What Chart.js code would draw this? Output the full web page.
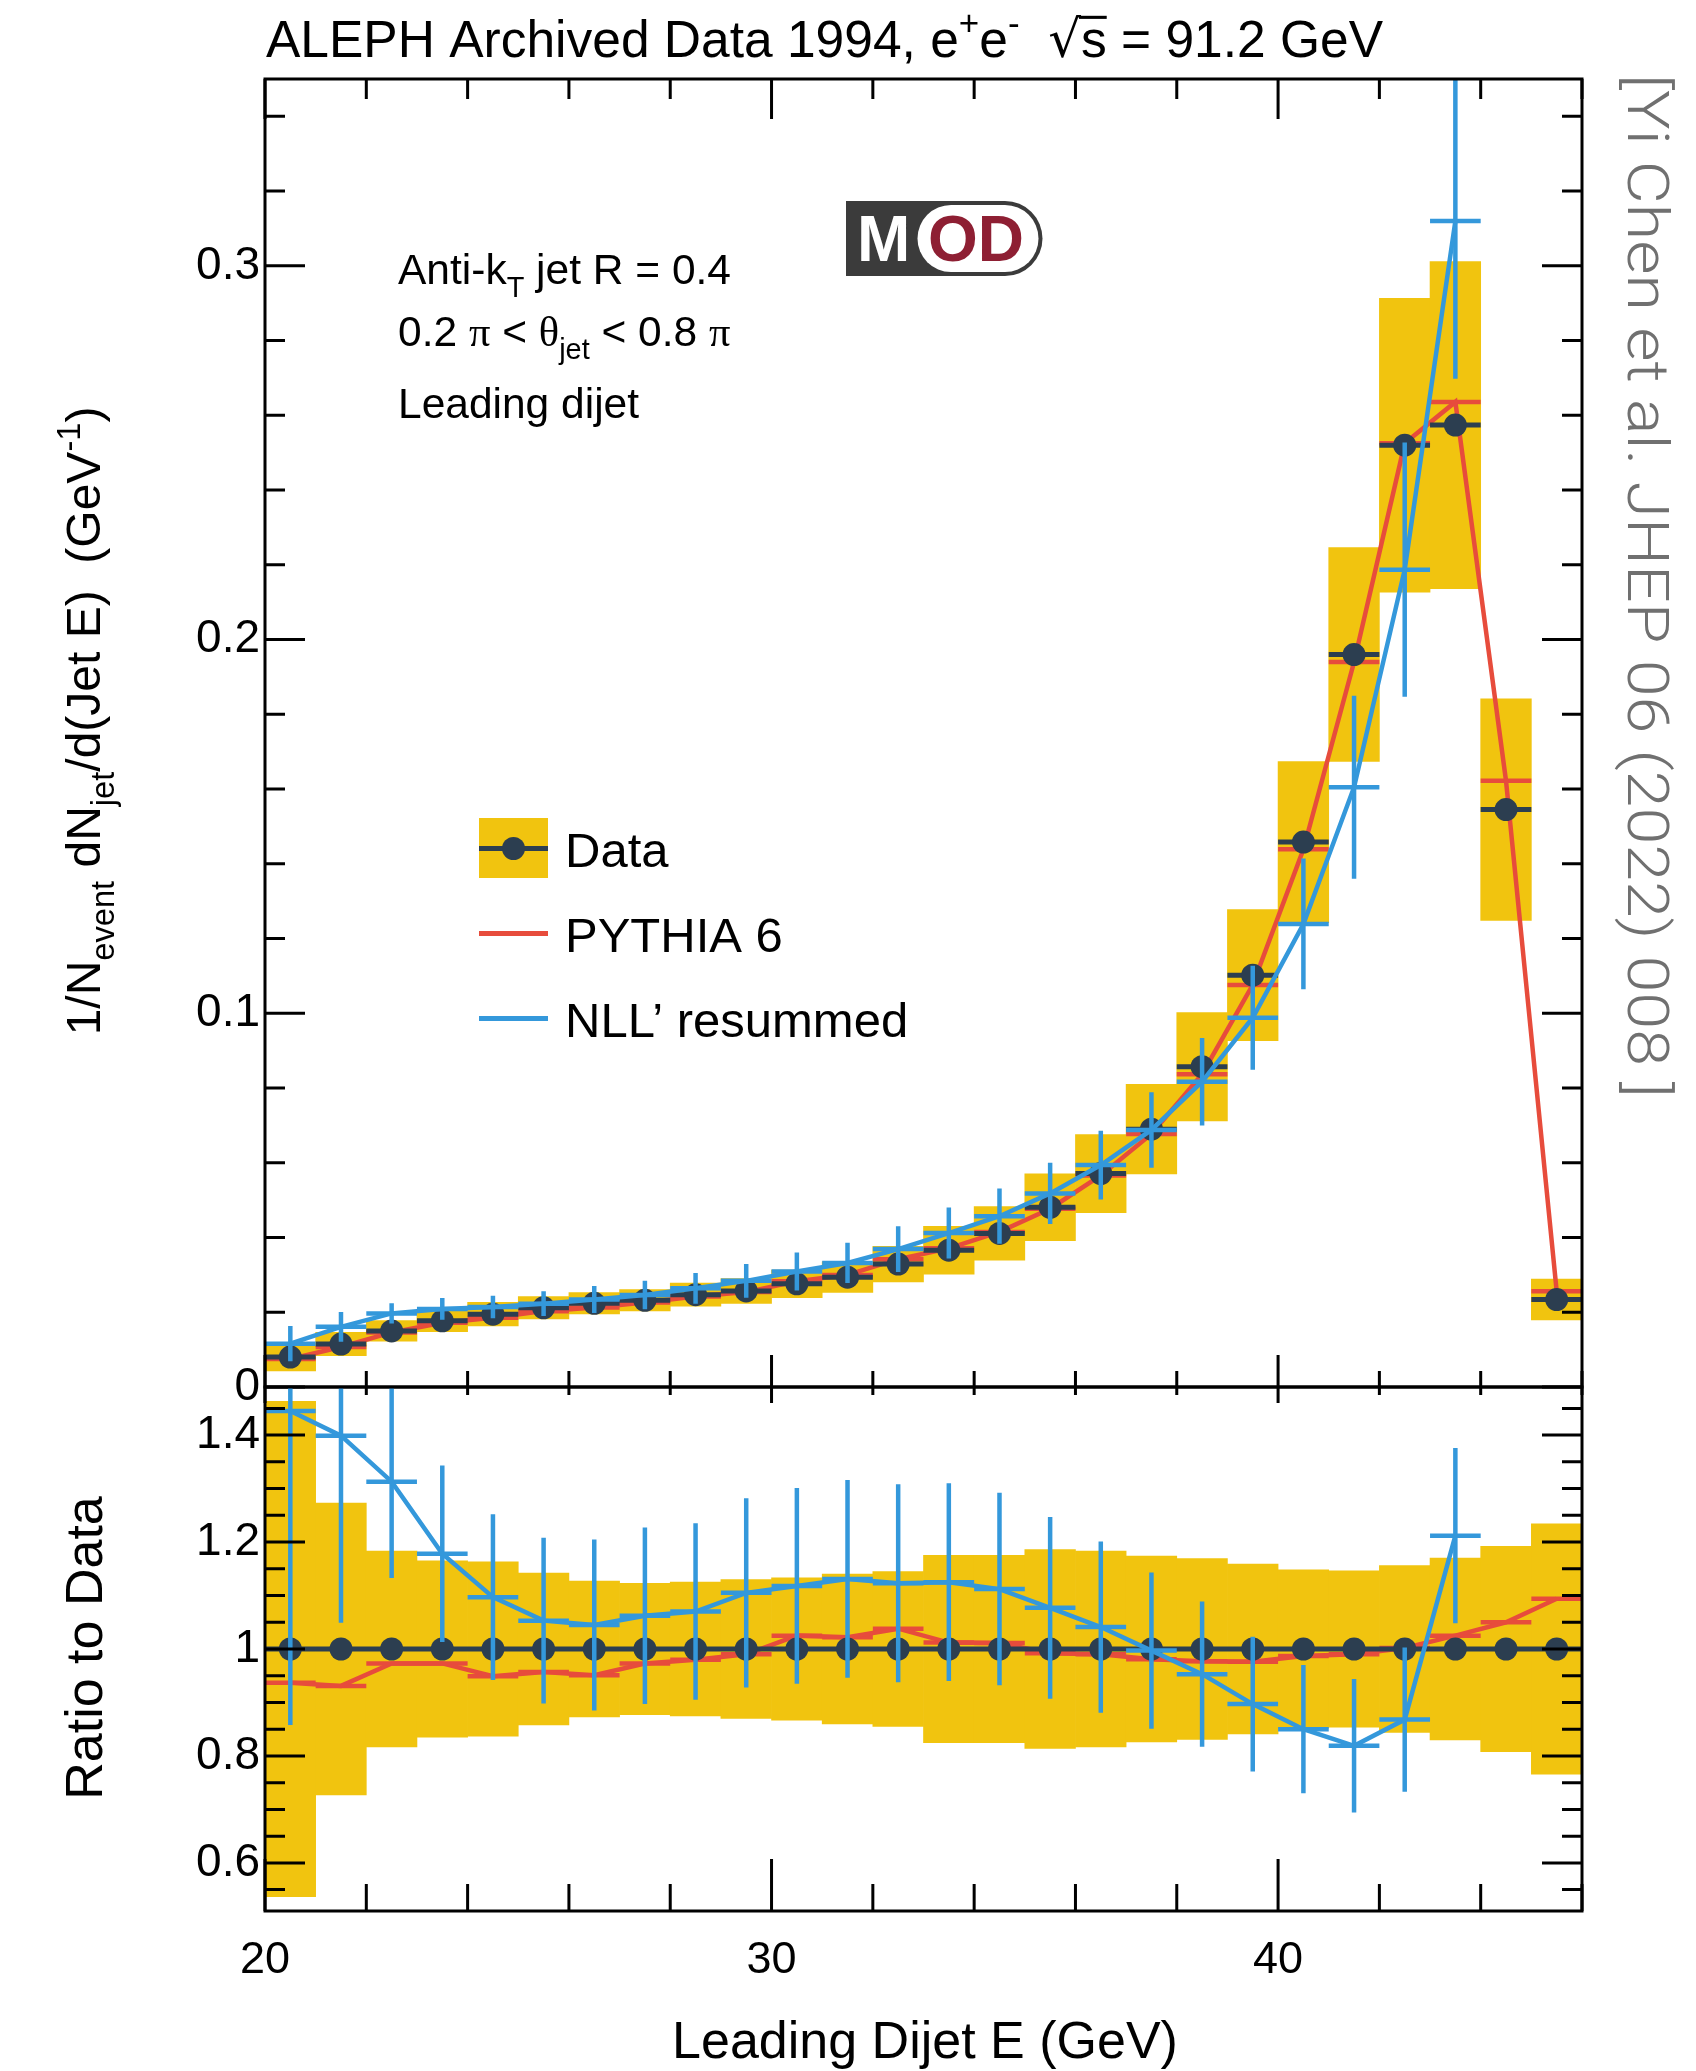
<!DOCTYPE html>
<html>
<head>
<meta charset="utf-8">
<title>Leading dijet energy - ALEPH 1994</title>
<script src="https://cdn.jsdelivr.net/npm/chart.js@4.4.1/dist/chart.umd.min.js"></script>
<style>
  html, body { margin: 0; padding: 0; background: #fff; }
  #page { position: relative; width: 1696px; height: 2071px; overflow: hidden; }
  #page canvas { position: absolute; left: 0; top: 0; }
</style>
</head>
<body>
<div id="page">
  <canvas id="main-chart" width="1696" height="2071"></canvas>
  <canvas id="ratio-chart" width="1696" height="2071"></canvas>
</div>
<script>
// bin centres in GeV (every bin is 1 GeV wide)
const energy = [20.5, 21.5, 22.5, 23.5, 24.5, 25.5, 26.5, 27.5, 28.5, 29.5, 30.5, 31.5, 32.5,
                33.5, 34.5, 35.5, 36.5, 37.5, 38.5, 39.5, 40.5, 41.5, 42.5, 43.5, 44.5, 45.5];
const binHalf = 0.5;

// ALEPH data, 1/N dN/dE
const dataVal = [0.0080, 0.0115, 0.0150, 0.0177, 0.0195, 0.0212, 0.0224, 0.0232, 0.0247, 0.0257,
                 0.0276, 0.0294, 0.0329, 0.0366, 0.0411, 0.0481, 0.0571, 0.0690, 0.0857, 0.1102,
                 0.1458, 0.1960, 0.2520, 0.2574, 0.1545, 0.0234];
// relative (symmetric) uncertainty of the data = yellow band
const dataRelErr = [0.463, 0.273, 0.183, 0.165, 0.163, 0.142, 0.127, 0.123, 0.125, 0.130,
                    0.133, 0.140, 0.145, 0.175, 0.175, 0.186, 0.183, 0.174, 0.169, 0.159,
                    0.148, 0.146, 0.156, 0.170, 0.192, 0.234];
const dataRatio = [1, 1, 1, 1, 1, 1, 1, 1, 1, 1, 1, 1, 1, 1, 1, 1, 1, 1, 1, 1, 1, 1, 1, 1, 1, 1];

// PYTHIA 6
const pythiaVal = [0.0075, 0.0107, 0.0146, 0.0172, 0.0185, 0.0203, 0.0213, 0.0226, 0.0242, 0.0254,
                   0.0283, 0.0300, 0.0342, 0.0371, 0.0415, 0.0477, 0.0566, 0.0677, 0.0837, 0.1076,
                   0.1439, 0.1940, 0.2525, 0.2636, 0.1622, 0.0256];
const pythiaRatio = [0.937, 0.931, 0.973, 0.973, 0.949, 0.957, 0.951, 0.973, 0.980, 0.990,
                     1.025, 1.022, 1.038, 1.012, 1.011, 0.992, 0.990, 0.981, 0.977, 0.976,
                     0.987, 0.990, 1.002, 1.025, 1.050, 1.094];

// NLL' resummed (only up to 43.5 GeV)
const nllVal = [0.0116, 0.0161, 0.0197, 0.0209, 0.0214, 0.0223, 0.0234, 0.0246, 0.0264, 0.0284,
                0.0309, 0.0332, 0.0369, 0.0412, 0.0457, 0.0518, 0.0594, 0.0688, 0.0817, 0.0988,
                0.1239, 0.1605, 0.2187, 0.3120];
const nllErr = [0.0047, 0.0040, 0.0027, 0.0029, 0.0030, 0.0033, 0.0036, 0.0038, 0.0041, 0.0045,
                0.0051, 0.0054, 0.0061, 0.0068, 0.0074, 0.0082, 0.0092, 0.0101, 0.0117, 0.0139,
                0.0175, 0.0245, 0.0340, 0.0422];
const nllRatio = [1.445, 1.399, 1.313, 1.178, 1.097, 1.053, 1.045, 1.062, 1.070, 1.105,
                  1.118, 1.131, 1.123, 1.125, 1.112, 1.077, 1.041, 0.997, 0.953, 0.897,
                  0.850, 0.819, 0.868, 1.212];
const nllRatioErr = [0.587, 0.350, 0.180, 0.165, 0.155, 0.155, 0.160, 0.165, 0.165, 0.177,
                     0.183, 0.185, 0.185, 0.185, 0.180, 0.170, 0.160, 0.146, 0.136, 0.126,
                     0.120, 0.125, 0.135, 0.164];

// axes
const xMin = 20, xMax = 46;
const xLabels = [20, 30, 40];
const mainYMax = 0.35;
const mainYLabels = [0, 0.1, 0.2, 0.3];
const ratioYMin = 0.51, ratioYMax = 1.49;
const ratioYLabels = [0.6, 0.8, 1, 1.2, 1.4];

const COL = { band: '#f1c40f', data: '#2c3e50', pythia: '#e74c3c', nll: '#3498db' };
const SANS = '"Liberation Sans", Arial, Helvetica, sans-serif';
const SERIF = '"Liberation Serif", "Times New Roman", serif';

Chart.defaults.font.family = SANS;
Chart.defaults.color = '#000';

// ---------- helpers to turn the arrays into datasets ----------
function points(xs, ys) {
    return xs.map((x, i) => ({ x: x, y: ys[i] }));
}
// horizontal bars across each bin, separated by gaps
function hBars(xs, ys) {
    const out = [];
    xs.forEach((x, i) => {
        out.push({ x: x - binHalf, y: ys[i] }, { x: x + binHalf, y: ys[i] }, { x: x, y: null });
    });
    return out;
}
// vertical error bars
function vBars(xs, ys, errs) {
    const out = [];
    xs.forEach((x, i) => {
        out.push({ x: x, y: ys[i] - errs[i] }, { x: x, y: ys[i] + errs[i] }, { x: x, y: null });
    });
    return out;
}
function band(xs, ys, rel) {
    return xs.map((x, i) => ({ x: x, y: [ys[i] * (1 - rel[i]), ys[i] * (1 + rel[i])] }));
}
function lineSet(data, color, width, order) {
    return {
        type: 'line', data: data, borderColor: color, borderWidth: width, pointRadius: 0,
        fill: false, tension: 0, spanGaps: false, borderCapStyle: 'butt', clip: 0, order: order
    };
}
function buildDatasets(dVal, relErr, pVal, nVal, nErr) {
    const nllX = energy.slice(0, nVal.length);
    return [
        lineSet(points(nllX, nVal), COL.nll, 4.5, 1),
        lineSet(hBars(nllX, nVal), COL.nll, 4.5, 1),
        lineSet(vBars(nllX, nVal, nErr), COL.nll, 4.5, 1),
        {
            type: 'line', data: points(energy, dVal), showLine: false, pointRadius: 11.5,
            pointHoverRadius: 11.5, pointBackgroundColor: COL.data, pointBorderWidth: 0, clip: 0, order: 2
        },
        lineSet(hBars(energy, dVal), COL.data, 5, 3),
        lineSet(points(energy, pVal), COL.pythia, 4.5, 4),
        lineSet(hBars(energy, pVal), COL.pythia, 4.5, 4),
        {
            type: 'bar', data: band(energy, dVal, relErr), backgroundColor: COL.band, borderWidth: 0,
            barPercentage: 1, categoryPercentage: 1, grouped: false, clip: 0, order: 5
        }
    ];
}

const fmt = v => String(+v.toFixed(2));

// ---------- ROOT style frame with inward ticks ----------
function frameTicks(cfg) {
    return {
        id: 'frameTicks',
        afterDraw(chart) {
            const { ctx, chartArea: a } = chart;
            const sx = chart.scales.x, sy = chart.scales.y;
            ctx.save();
            ctx.strokeStyle = '#000';
            ctx.lineWidth = 3;
            ctx.beginPath();
            cfg.xTicks.forEach(t => {
                const px = sx.getPixelForValue(t[0]);
                const bl = t[1] ? cfg.bottom[0] : cfg.bottom[1];
                const tl = t[1] ? cfg.top[0] : cfg.top[1];
                ctx.moveTo(px, a.bottom); ctx.lineTo(px, a.bottom - bl);
                ctx.moveTo(px, a.top); ctx.lineTo(px, a.top + tl);
            });
            cfg.yTicks.forEach(t => {
                const py = sy.getPixelForValue(t[0]);
                const l = t[1] ? cfg.side[0] : cfg.side[1];
                ctx.moveTo(a.left, py); ctx.lineTo(a.left + l, py);
                ctx.moveTo(a.right, py); ctx.lineTo(a.right - l, py);
            });
            ctx.stroke();
            ctx.strokeRect(a.left, a.top, a.right - a.left, a.bottom - a.top);
            ctx.restore();
        }
    };
}
function tickList(from, to, step, majors) {
    const out = [];
    for (let v = from; v <= to + 1e-9; v += step) {
        const r = +v.toFixed(3);
        out.push([r, majors.some(m => Math.abs(m - r) < 1e-6)]);
    }
    return out;
}
const xTickList = tickList(20, 46, 2, xLabels);

// ---------- text with sub/superscripts ----------
function drawRich(ctx, parts, x, y, size, align, weight) {
    const items = parts.map(p => {
        const text = p[0], kind = p[1] || '', fam = p[2] || SANS;
        const s = (kind === 'sub' || kind === 'sup') ? size * 0.68 : size;
        const font = (weight || 'normal') + ' ' + s + 'px ' + fam;
        ctx.font = font;
        return {
            text: text, font: font, w: ctx.measureText(text).width, kind: kind,
            dy: kind === 'sub' ? size * 0.3 : kind === 'sup' ? -size * 0.42 : 0
        };
    });
    const total = items.reduce((s, it) => s + it.w, 0);
    let cx = align === 'center' ? x - total / 2 : align === 'right' ? x - total : x;
    ctx.textAlign = 'left';
    ctx.textBaseline = 'alphabetic';
    items.forEach(it => {
        ctx.font = it.font;
        ctx.fillText(it.text, cx, y + it.dy);
        if (it.kind === 'over') {
            ctx.fillRect(cx - 2, y - size * 0.8, it.w + 2, size * 0.06);
        }
        cx += it.w;
    });
    return total;
}

// ---------- labels, legend and logo of the upper panel ----------
const mainDecor = {
    id: 'mainDecor',
    afterDraw(chart) {
        const ctx = chart.ctx;
        ctx.save();
        ctx.fillStyle = '#000';

        // title
        drawRich(ctx, [['ALEPH Archived Data 1994, e'], ['+', 'sup'], ['e'], ['-', 'sup'], ['  '],
            ['\u221A', '', '"DejaVu Sans", sans-serif'], ['s', 'over'], [' = 91.2 GeV']], 266, 57, 51.5, 'left');

        // selection text
        drawRich(ctx, [['Anti-k'], ['T', 'sub'], [' jet R = 0.4']], 398, 284, 42.5, 'left');
        drawRich(ctx, [['0.2 '], ['\u03C0', '', SERIF], [' < '], ['\u03B8', '', SERIF], ['jet', 'sub'],
            [' < 0.8 '], ['\u03C0', '', SERIF]], 398, 346, 42.5, 'left');
        drawRich(ctx, [['Leading dijet']], 398, 418, 42.5, 'left');

        // y axis title
        ctx.save();
        ctx.translate(83, 721);
        ctx.rotate(-Math.PI / 2);
        drawRich(ctx, [['1/N'], ['event', 'sub'], [' dN'], ['jet', 'sub'], ['/d(Jet E)  (GeV'], ['-1', 'sup'], [')']],
            0, 17, 48, 'center');
        ctx.restore();

        // legend
        const lx0 = 479, lx1 = 548;
        ctx.fillStyle = COL.band;
        ctx.fillRect(lx0, 818, lx1 - lx0, 60);
        ctx.fillStyle = COL.data;
        ctx.fillRect(lx0, 846, lx1 - lx0, 5);
        ctx.beginPath();
        ctx.arc((lx0 + lx1) / 2, 848.5, 11.5, 0, Math.PI * 2);
        ctx.fill();
        ctx.fillStyle = COL.pythia;
        ctx.fillRect(lx0, 931, lx1 - lx0, 5);
        ctx.fillStyle = COL.nll;
        ctx.fillRect(lx0, 1016, lx1 - lx0, 5);
        ctx.fillStyle = '#000';
        drawRich(ctx, [['Data']], 565, 867, 49, 'left');
        drawRich(ctx, [['PYTHIA 6']], 565, 952, 49, 'left');
        drawRich(ctx, [['NLL\u2019 resummed']], 565, 1037, 49, 'left');

        // MOD logo
        ctx.fillStyle = '#3b3b3b';
        ctx.beginPath();
        ctx.moveTo(846, 201);
        ctx.lineTo(1005, 201);
        ctx.arc(1005, 238.5, 37.5, -Math.PI / 2, Math.PI / 2);
        ctx.lineTo(846, 276);
        ctx.closePath();
        ctx.fill();
        ctx.fillStyle = '#fff';
        ctx.beginPath();
        ctx.moveTo(951, 205);
        ctx.lineTo(1005, 205);
        ctx.arc(1005, 238.5, 33.5, -Math.PI / 2, Math.PI / 2);
        ctx.lineTo(951, 272);
        ctx.arc(951, 238.5, 33.5, Math.PI / 2, Math.PI * 1.5);
        ctx.closePath();
        ctx.fill();
        ctx.font = 'bold 64px ' + SANS;
        ctx.textBaseline = 'alphabetic';
        ctx.textAlign = 'left';
        ctx.fillStyle = '#fff';
        ctx.fillText('M', 857, 261);
        ctx.fillStyle = '#8e1f33';
        ctx.fillText('OD', 928, 261);

        // reference, rotated
        ctx.save();
        ctx.translate(1628, 74);
        ctx.rotate(Math.PI / 2);
        ctx.font = '300 58px Roboto, "Open Sans", sans-serif';
        const cite = '[Yi Chen et al. JHEP 06 (2022) 008 ]';
        const w = ctx.measureText(cite).width;
        ctx.scale(1024 / w, 1);
        ctx.fillStyle = '#707070';
        ctx.textAlign = 'left';
        ctx.fillText(cite, 0, 0);
        ctx.restore();

        ctx.restore();
    }
};

const ratioDecor = {
    id: 'ratioDecor',
    afterDraw(chart) {
        const ctx = chart.ctx;
        ctx.save();
        ctx.fillStyle = '#000';
        ctx.translate(83, 1648);
        ctx.rotate(-Math.PI / 2);
        drawRich(ctx, [['Ratio to Data']], 0, 19, 52, 'center');
        ctx.restore();
        ctx.save();
        ctx.fillStyle = '#000';
        drawRich(ctx, [['Leading Dijet E (GeV)']], 925, 2058, 52, 'center');
        ctx.restore();
    }
};

function commonOptions(padding, yMin, yMax, yLabels, xHeight, showX) {
    return {
        responsive: false,
        devicePixelRatio: 1,
        animation: false,
        events: [],
        layout: { padding: padding },
        plugins: { legend: { display: false }, tooltip: { enabled: false } },
        scales: {
            x: {
                type: 'linear', min: xMin, max: xMax, offset: false,
                grid: { display: false }, border: { display: false },
                afterBuildTicks: s => { s.ticks = xLabels.map(v => ({ value: v })); },
                ticks: { display: showX, font: { size: 45 }, color: '#000', padding: 15, maxRotation: 0, callback: v => fmt(v) },
                afterFit: s => { s.height = xHeight; }
            },
            y: {
                type: 'linear', min: yMin, max: yMax, beginAtZero: false,
                grid: { display: false }, border: { display: false },
                afterBuildTicks: s => { s.ticks = yLabels.map(v => ({ value: v })); },
                ticks: { font: { size: 46 }, color: '#000', padding: -3, callback: v => fmt(v) },
                afterFit: s => { s.width = 120; }
            }
        }
    };
}

new Chart(document.getElementById('main-chart'), {
    type: 'line',
    data: { datasets: buildDatasets(dataVal, dataRelErr, pythiaVal, nllVal, nllErr) },
    options: commonOptions({ left: 145, top: 79, right: 114, bottom: 644 }, 0, mainYMax, mainYLabels, 40, false),
    plugins: [frameTicks({
        xTicks: xTickList, yTicks: tickList(0, 0.34, 0.02, mainYLabels),
        top: [40, 20], bottom: [32, 16], side: [40, 20]
    }), mainDecor]
});

new Chart(document.getElementById('ratio-chart'), {
    type: 'line',
    data: { datasets: buildDatasets(dataRatio, dataRelErr, pythiaRatio, nllRatio, nllRatioErr) },
    options: commonOptions({ left: 145, top: 1387, right: 114, bottom: 60 }, ratioYMin, ratioYMax, ratioYLabels, 100, true),
    plugins: [frameTicks({
        xTicks: xTickList, yTicks: tickList(0.55, 1.45, 0.05, ratioYLabels),
        top: [16, 8], bottom: [52, 27], side: [40, 20]
    }), ratioDecor]
});
</script>
</body>
</html>
